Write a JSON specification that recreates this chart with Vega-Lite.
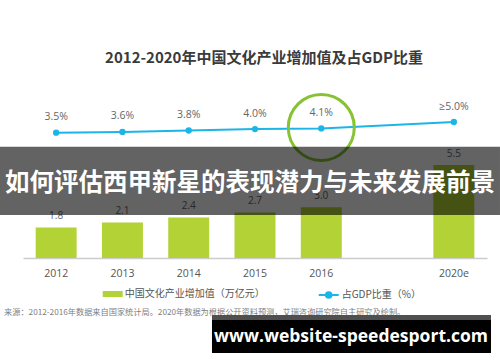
{
  "$schema": "https://vega.github.io/schema/vega-lite/v6.json",
  "width": 464,
  "height": 183,
  "autosize": {"type": "none"},
  "padding": {"left": 23, "top": 75, "right": 13, "bottom": 104},
  "background": "white",
  "config": {"view": {"stroke": null}, "font": "Noto Sans CJK SC"},
  "title": {
    "text": "2012-2020年中国文化产业增加值及占GDP比重",
    "font": "Noto Sans CJK SC",
    "fontSize": 15,
    "fontWeight": "bold",
    "color": "#3a3a3a",
    "anchor": "middle",
    "frame": "group",
    "dx": 9,
    "offset": 9
  },
  "datasets": {
    "bars": [
      {"year": "2012", "value": 1.8},
      {"year": "2013", "value": 2.1},
      {"year": "2014", "value": 2.4},
      {"year": "2015", "value": 2.7},
      {"year": "2016", "value": 3.0},
      {"year": "2020e", "value": 5.5}
    ],
    "ratio": [
      {"year": "2012", "pct": 3.5, "label": "3.5%"},
      {"year": "2013", "pct": 3.6, "label": "3.6%"},
      {"year": "2014", "pct": 3.8, "label": "3.8%"},
      {"year": "2015", "pct": 4.0, "label": "4.0%"},
      {"year": "2016", "pct": 4.1, "label": "4.1%"},
      {"year": "2020e", "pct": 5.0, "label": "≥5.0%"}
    ]
  },
  "layer": [
    {
      "data": {"name": "bars"},
      "encoding": {
        "x": {
          "field": "year",
          "type": "ordinal",
          "scale": {"domain": ["2012", "2013", "2014", "2015", "2016", "gap", "2020e"], "paddingInner": 0.382, "paddingOuter": 0.191},
          "axis": {
            "title": null,
            "labelExpr": "datum.value == 'gap' ? '' : datum.value",
            "ticks": false,
            "grid": false,
            "labelAngle": 0,
            "labelPadding": 10,
            "labelFont": "Open Sans",
            "labelFontSize": 10.5,
            "labelColor": "#555555",
            "domainColor": "#cccccc",
            "domainWidth": 1.3
          }
        },
        "y": {"field": "value", "type": "quantitative", "scale": {"domain": [0, 10.83], "nice": false}, "axis": null}
      },
      "layer": [
        {
          "mark": {"type": "bar"},
          "encoding": {
            "fill": {
              "datum": "中国文化产业增加值（万亿元）",
              "type": "nominal",
              "scale": {"range": ["#b2d235"]},
              "legend": {
                "title": null,
                "orient": "none",
                "legendX": 79.7,
                "legendY": 209,
                "padding": 0,
                "symbolType": "M-1,-0.3H1V0.3H-1Z",
                "symbolSize": 400,
                "symbolStrokeWidth": 0,
                "labelFont": "Noto Sans CJK SC",
                "labelFontSize": 10,
                "labelColor": "#555555",
                "labelOffset": 2
              }
            }
          }
        },
        {
          "mark": {"type": "text", "baseline": "middle", "dy": -11.5, "font": "Open Sans", "fontSize": 10, "color": "#666666"},
          "encoding": {"text": {"field": "value", "type": "quantitative", "format": ".1f"}}
        }
      ]
    },
    {
      "data": {"name": "ratio"},
      "encoding": {
        "x": {
          "field": "year",
          "type": "ordinal",
          "scale": {"type": "band", "domain": ["2012", "2013", "2014", "2015", "2016", "gap", "2020e"], "paddingInner": 0.382, "paddingOuter": 0.191},
          "axis": null
        },
        "y": {"field": "pct", "type": "quantitative", "scale": {"domain": [-14.15, 11.62], "nice": false, "zero": false}, "axis": null}
      },
      "layer": [
        {
          "mark": {"type": "line", "strokeWidth": 2},
          "encoding": {
            "stroke": {
              "datum": "占GDP比重（%）",
              "type": "nominal",
              "scale": {"range": ["#1cb5e8"]},
              "legend": {
                "title": null,
                "orient": "none",
                "legendX": 294.7,
                "legendY": 209,
                "padding": 0,
                "symbolType": "M-1,0H1M-0.28,0A0.28,0.28 0 1,1 0.28,0A0.28,0.28 0 1,1 -0.28,0Z",
                "symbolSize": 400,
                "symbolStrokeWidth": 2,
                "symbolFillColor": "#1cb5e8",
                "labelFont": "Noto Sans CJK SC",
                "labelFontSize": 10,
                "labelColor": "#555555",
                "labelOffset": 2,
                "encode": {"symbols": {"update": {"fill": {"value": "#1cb5e8"}}}}
              }
            }
          }
        },
        {"mark": {"type": "point", "filled": true, "size": 40, "color": "#1cb5e8", "opacity": 1}},
        {
          "mark": {"type": "text", "baseline": "middle", "dy": -15.5, "font": "Open Sans", "fontSize": 10.5, "color": "#666666"},
          "encoding": {"text": {"field": "label", "type": "nominal"}}
        },
        {
          "transform": [{"filter": "datum.year == '2016'"}],
          "mark": {"type": "point", "shape": "circle", "filled": false, "size": 4356, "stroke": "#86c232", "strokeWidth": 3, "yOffset": -1, "opacity": 1}
        }
      ]
    },
    {
      "data": {"values": [{}]},
      "layer": [
        {
          "mark": {"type": "rect", "fill": "#000000", "opacity": 0.61},
          "encoding": {
            "x": {"datum": -4.957, "type": "quantitative", "scale": {"domain": [0, 100], "nice": false, "zero": false}, "axis": null},
            "x2": {"datum": 102.8},
            "y": {"datum": 60.82, "type": "quantitative", "scale": {"domain": [0, 100], "nice": false, "zero": false}, "axis": null},
            "y2": {"datum": 23.5}
          }
        },
        {
          "mark": {"type": "text", "align": "center", "baseline": "middle", "font": "Noto Sans CJK SC", "fontSize": 24.5, "fontWeight": "bold", "fill": "#ffffff"},
          "encoding": {
            "x": {"datum": 48.92, "type": "quantitative", "scale": {"domain": [0, 100], "nice": false, "zero": false}, "axis": null},
            "y": {"datum": 40.7, "type": "quantitative", "scale": {"domain": [0, 100], "nice": false, "zero": false}, "axis": null},
            "text": {"value": "如何评估西甲新星的表现潜力与未来发展前景"}
          }
        },
        {
          "mark": {"type": "text", "align": "left", "baseline": "middle", "font": "Noto Sans CJK SC", "fontSize": 8.2, "fill": "#808080"},
          "encoding": {
            "x": {"datum": -4.09, "type": "quantitative", "scale": {"domain": [0, 100], "nice": false, "zero": false}, "axis": null},
            "y": {"datum": -30.05, "type": "quantitative", "scale": {"domain": [0, 100], "nice": false, "zero": false}, "axis": null},
            "text": {"value": "来源：2012-2016年数据来自国家统计局。2020年数据为根据公开资料预测，艾瑞咨询研究院自主研究及绘制。"}
          }
        },
        {
          "mark": {"type": "rect", "fill": "#505050"},
          "encoding": {
            "x": {"datum": 40.73, "type": "quantitative", "scale": {"domain": [0, 100], "nice": false, "zero": false}, "axis": null},
            "x2": {"datum": 100.86},
            "y": {"datum": -31.15, "type": "quantitative", "scale": {"domain": [0, 100], "nice": false, "zero": false}, "axis": null},
            "y2": {"datum": -33.88}
          }
        },
        {
          "mark": {"type": "rect", "fill": "#000000"},
          "encoding": {
            "x": {"datum": 40.73, "type": "quantitative", "scale": {"domain": [0, 100], "nice": false, "zero": false}, "axis": null},
            "x2": {"datum": 100.86},
            "y": {"datum": -33.88, "type": "quantitative", "scale": {"domain": [0, 100], "nice": false, "zero": false}, "axis": null},
            "y2": {"datum": -51.91}
          }
        },
        {
          "mark": {"type": "text", "align": "center", "baseline": "middle", "font": "Open Sans", "fontSize": 17.5, "fontWeight": "bold", "fill": "#ffffff"},
          "encoding": {
            "x": {"datum": 70.69, "type": "quantitative", "scale": {"domain": [0, 100], "nice": false, "zero": false}, "axis": null},
            "y": {"datum": -43.0, "type": "quantitative", "scale": {"domain": [0, 100], "nice": false, "zero": false}, "axis": null},
            "text": {"value": "www.website-speedesport.com"}
          }
        }
      ]
    }
  ],
  "resolve": {"scale": {"x": "independent", "y": "independent", "fill": "independent", "stroke": "independent"}}
}
